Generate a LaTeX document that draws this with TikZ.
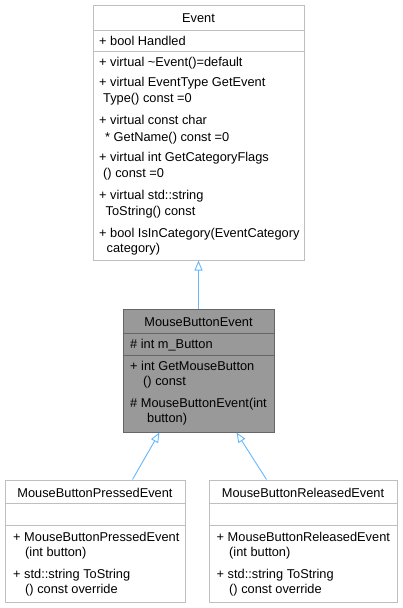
\documentclass[tikz,border=0pt]{standalone}
\usepackage{fontspec}
\setmainfont{Liberation Sans}
\usetikzlibrary{arrows.meta,calc}
\definecolor{boxgray}{HTML}{BFBFBF}
\definecolor{darkborder}{HTML}{666666}
\definecolor{darkfill}{HTML}{999999}
\definecolor{edgeblue}{HTML}{63B8FF}
\begin{document}
\begin{tikzpicture}[x=1pt,y=-1pt,
  whitebox/.style={draw=boxgray, fill=white, line width=1pt, inner sep=0pt},
  graybox/.style={draw=darkborder, fill=darkfill, line width=1pt, inner sep=0pt},
  wsep/.style={draw=boxgray, line width=1pt},
  gsep/.style={draw=darkborder, line width=1pt},
  txt/.style={anchor=base west, inner sep=0pt, font=\fontsize{12.8}{15}\selectfont},
  ttl/.style={anchor=base, inner sep=0pt, font=\fontsize{12.8}{15}\selectfont},
  inherit/.style={draw=edgeblue, line width=0.9pt, -{Triangle[open, length=10pt, width=8pt]}}
]
\useasboundingbox (0,0) rectangle (402,608);

% ---------- Event ----------
\node[whitebox, minimum width=211pt, minimum height=255pt] (event) at (198.5,132.5) {};
\draw[wsep] (event.west |- 0,30) -- (event.east |- 0,30);
\draw[wsep] (event.west |- 0,51) -- (event.east |- 0,51);
\node[ttl] (evt) at (198.5,22.5) {Event};
\node[txt] (eva1) at (99,45.5) {+ bool Handled};
\node[txt] (evm1) at (99,66.5) {+ virtual \textasciitilde Event()=default};
\node[txt] (evm2a) at (99,86.5) {+ virtual EventType GetEvent};
\node[txt] (evm2b) at (103,102.5) {Type() const =0};
\node[txt] (evm3a) at (99,124.5) {+ virtual const char};
\node[txt] (evm3b) at (105,141.5) {* GetName() const =0};
\node[txt] (evm4a) at (99,161.5) {+ virtual int GetCategoryFlags};
\node[txt] (evm4b) at (103,177.5) {() const =0};
\node[txt] (evm5a) at (99,199.5) {+ virtual std::string};
\node[txt] (evm5b) at (105.5,215.5) {ToString() const};
\node[txt] (evm6a) at (99,237.5) {+ bool IsInCategory(EventCategory};
\node[txt] (evm6b) at (106.5,252.5) {category)};

% ---------- MouseButtonEvent ----------
\node[graybox, minimum width=151pt, minimum height=123pt] (mbe) at (198.5,370.5) {};
\draw[gsep] (mbe.west |- 0,333) -- (mbe.east |- 0,333);
\draw[gsep] (mbe.west |- 0,355) -- (mbe.east |- 0,355);
\node[ttl] (mbet) at (198.5,326.5) {MouseButtonEvent};
\node[txt] (mbea1) at (130,348.5) {\# int m\_Button};
\node[txt] (mbem1a) at (130,370.5) {+ int GetMouseButton};
\node[txt] (mbem1b) at (143,385.5) {() const};
\node[txt] (mbem2a) at (130,407.5) {\# MouseButtonEvent(int};
\node[txt] (mbem2b) at (147,422.5) {button)};

% ---------- MouseButtonPressedEvent ----------
\node[whitebox, minimum width=180pt, minimum height=122pt] (mbp) at (95,541) {};
\draw[wsep] (mbp.west |- 0,503) -- (mbp.east |- 0,503);
\draw[wsep] (mbp.west |- 0,525) -- (mbp.east |- 0,525);
\node[ttl] (mbpt) at (95,497.5) {MouseButtonPressedEvent};
\node[txt] (mbpm1a) at (13,541.5) {+ MouseButtonPressedEvent};
\node[txt] (mbpm1b) at (25,556.5) {(int button)};
\node[txt] (mbpm2a) at (13,578.5) {+ std::string ToString};
\node[txt] (mbpm2b) at (25,593.5) {() const override};

% ---------- MouseButtonReleasedEvent ----------
\node[whitebox, minimum width=188pt, minimum height=122pt] (mbr) at (303,541) {};
\draw[wsep] (mbr.west |- 0,503) -- (mbr.east |- 0,503);
\draw[wsep] (mbr.west |- 0,525) -- (mbr.east |- 0,525);
\node[ttl] (mbrt) at (303,497.5) {MouseButtonReleasedEvent};
\node[txt] (mbrm1a) at (216.5,541.5) {+ MouseButtonReleasedEvent};
\node[txt] (mbrm1b) at (229,556.5) {(int button)};
\node[txt] (mbrm2a) at (216.5,578.5) {+ std::string ToString};
\node[txt] (mbrm2b) at (229,593.5) {() const override};

% ---------- inheritance ----------
\draw[inherit] (mbe.north) -- (event.south);
\coordinate (pstart) at ($(mbp.north west)+(128,0)$);
\coordinate (pend) at ($(mbe.south west)+(37,0)$);
\draw[inherit] (pstart) -- (pend);
\coordinate (rstart) at ($(mbr.north west)+(58,0)$);
\coordinate (rend) at ($(mbe.south west)+(114,0)$);
\draw[inherit] (rstart) -- (rend);
\end{tikzpicture}
\end{document}
